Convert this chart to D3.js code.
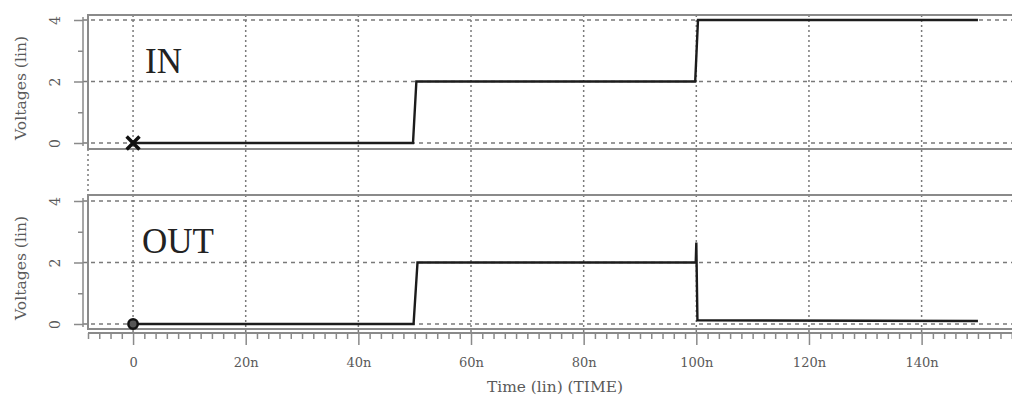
<!DOCTYPE html>
<html>
<head>
<meta charset="utf-8">
<script src="https://cdn.jsdelivr.net/npm/d3@7/dist/d3.min.js"></script>
<style>
  html, body { margin: 0; padding: 0; background: #fff; }
  svg { display: block; }
</style>
</head>
<body>
<div id="chart"></div>
<script>
// time in ns, voltage in V
const inTime  = [0, 49.7, 50.3, 99.8, 100.3, 150];
const inVolt  = [0, 0,    2,    2,    4,     4];
const outTime = [0, 49.8, 50.5, 99.9, 100.0, 100.2, 150];
const outVolt = [0, 0,    2,    2,    2.65,  0.12,  0.1];
const timeTicks = [0, 20, 40, 60, 80, 100, 120, 140];
const timeMinor = d3.range(-8, 158, 2);
const voltTicks = [0, 2, 4];
const voltMinor = [1, 3];
const panelLabels = ['IN', 'OUT'];

const W = 1012, H = 396;
const frameLeft = 88, axisX = 83;
const gridColor = '#7a7a7a', frameColor = '#8a8a8a', textColor = '#5a5a5a';
const tickFont = 'DejaVu Serif, serif';

const x = d3.scaleLinear().domain([-8, 158]).range([frameLeft, 1023]);

// each panel: frame top/bottom and the pixel rows of 0 V and 4 V
const panels = [
    { top: 15,  bottom: 149, y0: 143, y4: 20,  time: inTime,  volt: inVolt,  label: panelLabels[0], lx: 145, ly: 73 },
    { top: 195, bottom: 329, y0: 324, y4: 201, time: outTime, volt: outVolt, label: panelLabels[1], lx: 142, ly: 253 }
];
const xAxisY = 333;

const svg = d3.select('#chart').append('svg')
    .attr('width', W)
    .attr('height', H);

// vertical dotted grid through both panels
svg.append('g')
    .selectAll('line')
    .data(timeTicks)
    .join('line')
    .attr('x1', d => x(d)).attr('x2', d => x(d))
    .attr('y1', panels[0].top).attr('y2', xAxisY)
    .attr('stroke', gridColor)
    .attr('stroke-width', 1.5)
    .attr('stroke-dasharray', '2,3');

// dotted left edge in the gap between panels
svg.append('line')
    .attr('x1', frameLeft).attr('x2', frameLeft)
    .attr('y1', panels[0].bottom).attr('y2', panels[1].top)
    .attr('stroke', gridColor)
    .attr('stroke-width', 1.5)
    .attr('stroke-dasharray', '2,3');

panels.forEach(p => {
    const y = d3.scaleLinear().domain([0, 4]).range([p.y0, p.y4]);
    const g = svg.append('g');

    // horizontal dashed grid
    g.append('g')
        .selectAll('line')
        .data(voltTicks)
        .join('line')
        .attr('x1', axisX).attr('x2', W)
        .attr('y1', d => y(d)).attr('y2', d => y(d))
        .attr('stroke', gridColor)
        .attr('stroke-width', 1.5)
        .attr('stroke-dasharray', '4,4');

    // frame: top, left, bottom
    g.append('path')
        .attr('d', `M${W},${p.top}H${frameLeft}V${p.bottom}H${W}`)
        .attr('fill', 'none')
        .attr('stroke', frameColor)
        .attr('stroke-width', 2);

    // y axis with major + minor ticks
    const yAxis = g.append('g')
        .attr('transform', `translate(${axisX},0)`)
        .call(d3.axisLeft(y).tickValues(voltTicks).tickSize(9).tickSizeOuter(0).tickFormat(d3.format('d')));
    yAxis.select('.domain')
        .attr('d', `M0,${y(4.1)}V${y(-0.1)}`)
        .attr('stroke', frameColor)
        .attr('stroke-width', 1.5);
    yAxis.selectAll('.tick line').attr('stroke', frameColor).attr('stroke-width', 1.5);
    yAxis.selectAll('.tick text')
        .attr('x', 0).attr('y', 0).attr('dy', null)
        .attr('transform', 'translate(-28,0) rotate(-90)')
        .attr('text-anchor', 'middle')
        .attr('dominant-baseline', 'central')
        .attr('fill', textColor)
        .style('font-family', tickFont)
        .style('font-size', '14px');

    g.append('g')
        .attr('transform', `translate(${axisX},0)`)
        .call(d3.axisLeft(y).tickValues(voltMinor).tickSize(5).tickFormat(''))
        .call(a => a.select('.domain').remove())
        .selectAll('.tick line').attr('stroke', frameColor).attr('stroke-width', 1.5);

    // y title
    g.append('text')
        .attr('transform', `translate(21,${(p.top + p.bottom) / 2 + 6}) rotate(-90)`)
        .attr('text-anchor', 'middle')
        .attr('dominant-baseline', 'central')
        .attr('fill', textColor)
        .attr('textLength', 104)
        .attr('lengthAdjust', 'spacingAndGlyphs')
        .style('font-family', tickFont)
        .style('font-size', '15px')
        .text('Voltages (lin)');

    // signal trace
    const line = d3.line().x(d => x(d[0])).y(d => y(d[1]));
    g.append('path')
        .datum(d3.zip(p.time, p.volt))
        .attr('d', line)
        .attr('fill', 'none')
        .attr('stroke', '#1c1c1c')
        .attr('stroke-width', 2.4)
        .attr('stroke-linejoin', 'miter');

    // panel label
    g.append('text')
        .attr('x', p.lx).attr('y', p.ly)
        .attr('fill', '#222')
        .style('font-family', 'Liberation Serif, serif')
        .style('font-size', '35px')
        .text(p.label);

    p.yScale = y;
});

// markers at t=0
svg.append('path')
    .attr('transform', `translate(${x(0)},${panels[0].yScale(0)})`)
    .attr('d', d3.symbol(d3.symbolX, 110)())
    .attr('fill', 'none')
    .attr('stroke', '#111')
    .attr('stroke-width', 3.5);
svg.append('path')
    .attr('transform', `translate(${x(0)},${panels[1].yScale(0)})`)
    .attr('d', d3.symbol(d3.symbolCircle, 70)())
    .attr('fill', '#555')
    .attr('stroke', '#111')
    .attr('stroke-width', 2.5);

// x axis
const xAxis = svg.append('g')
    .attr('transform', `translate(0,${xAxisY})`)
    .call(d3.axisBottom(x).tickValues(timeTicks).tickSize(12).tickPadding(13).tickSizeOuter(0)
        .tickFormat(d => d === 0 ? '0' : d + 'n'));
xAxis.select('.domain')
    .attr('d', `M${frameLeft},0H${W}`)
    .attr('stroke', frameColor)
    .attr('stroke-width', 2);
xAxis.selectAll('.tick line').attr('stroke', frameColor).attr('stroke-width', 1.5);
xAxis.selectAll('.tick text')
    .attr('fill', textColor)
    .style('font-family', tickFont)
    .style('font-size', '13px');

svg.append('g')
    .attr('transform', `translate(0,${xAxisY})`)
    .call(d3.axisBottom(x).tickValues(timeMinor.filter(t => t % 20 !== 0)).tickSize(6).tickFormat(''))
    .call(a => a.select('.domain').remove())
    .selectAll('.tick line').attr('stroke', frameColor).attr('stroke-width', 1.5);

svg.append('text')
    .attr('x', 555).attr('y', 387)
    .attr('text-anchor', 'middle')
    .attr('dominant-baseline', 'central')
    .attr('fill', textColor)
    .attr('textLength', 136)
    .attr('lengthAdjust', 'spacingAndGlyphs')
    .style('font-family', tickFont)
    .style('font-size', '14px')
    .text('Time (lin) (TIME)');
</script>
</body>
</html>
